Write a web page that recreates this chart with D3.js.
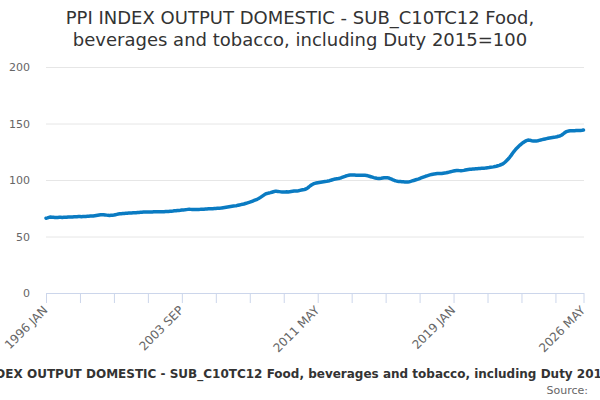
<!DOCTYPE html>
<html>
<head>
<meta charset="utf-8">
<script src="https://cdn.jsdelivr.net/npm/d3@7"></script>
<style>
  body { margin: 0; background: #fff; }
  svg { font-family: "DejaVu Sans", sans-serif; display: block; }
</style>
</head>
<body>
<div id="chart"></div>
<script>
const width = 600;
const height = 400;

const titleLines = ["PPI INDEX OUTPUT DOMESTIC - SUB_C10TC12 Food,", "beverages and tobacco, including Duty 2015=100"];
const caption = "PPI INDEX OUTPUT DOMESTIC - SUB_C10TC12 Food, beverages and tobacco, including Duty 2015=100";
const monthNames = ["JAN","FEB","MAR","APR","MAY","JUN","JUL","AUG","SEP","OCT","NOV","DEC"];
const startYear = 1996;

// monthly values by year
const v1996 = [66.2, 66.5, 66.9, 67.2, 67.1, 67.0, 66.9, 66.8, 66.9, 67.0, 67.0, 66.9];
const v1997 = [67.0, 67.1, 67.0, 67.2, 67.3, 67.2, 67.3, 67.4, 67.4, 67.5, 67.6, 67.6];
const v1998 = [67.5, 67.6, 67.7, 67.8, 67.9, 68.0, 68.1, 68.1, 68.2, 68.4, 68.6, 68.8];
const v1999 = [69.0, 69.2, 69.3, 69.3, 69.1, 68.9, 68.7, 68.6, 68.7, 68.8, 69.0, 69.3];
const v2000 = [69.6, 69.9, 70.1, 70.2, 70.3, 70.4, 70.5, 70.6, 70.7, 70.8, 70.9, 71.0];
const v2001 = [71.0, 71.1, 71.2, 71.3, 71.4, 71.5, 71.6, 71.6, 71.6, 71.7, 71.7, 71.7];
const v2002 = [71.7, 71.8, 71.8, 71.9, 71.9, 71.9, 72.0, 72.0, 72.0, 72.1, 72.1, 72.2];
const v2003 = [72.3, 72.4, 72.5, 72.7, 72.8, 73.0, 73.1, 73.2, 73.4, 73.5, 73.6, 73.8];
const v2004 = [74.0, 74.1, 74.0, 73.9, 73.8, 73.8, 73.9, 74.0, 74.0, 74.1, 74.1, 74.2];
const v2005 = [74.3, 74.4, 74.5, 74.5, 74.6, 74.6, 74.7, 74.8, 74.9, 75.0, 75.1, 75.3];
const v2006 = [75.5, 75.7, 75.9, 76.1, 76.3, 76.5, 76.7, 76.9, 77.1, 77.3, 77.6, 77.9];
const v2007 = [78.2, 78.5, 78.8, 79.2, 79.6, 80.0, 80.4, 80.9, 81.4, 81.9, 82.4, 82.9];
const v2008 = [83.6, 84.4, 85.3, 86.2, 87.1, 87.8, 88.2, 88.5, 88.8, 89.2, 89.6, 90.0];
const v2009 = [90.0, 89.9, 89.7, 89.5, 89.3, 89.3, 89.4, 89.5, 89.4, 89.6, 89.8, 90.0];
const v2010 = [90.2, 90.3, 90.3, 90.5, 90.8, 91.1, 91.4, 91.6, 92.0, 92.8, 93.8, 94.9];
const v2011 = [95.8, 96.5, 97.0, 97.3, 97.6, 97.8, 98.0, 98.2, 98.4, 98.6, 98.8, 99.1];
const v2012 = [99.4, 99.8, 100.2, 100.6, 100.9, 101.1, 101.3, 101.6, 102.0, 102.5, 103.0, 103.5];
const v2013 = [103.9, 104.2, 104.4, 104.5, 104.5, 104.4, 104.3, 104.2, 104.1, 104.1, 104.2, 104.2];
const v2014 = [104.1, 104.0, 103.7, 103.3, 102.9, 102.5, 102.1, 101.8, 101.5, 101.4, 101.4, 101.5];
const v2015 = [101.7, 101.9, 102.1, 102.1, 101.8, 101.3, 100.7, 100.1, 99.6, 99.2, 98.9, 98.7];
const v2016 = [98.6, 98.5, 98.4, 98.3, 98.2, 98.3, 98.5, 98.8, 99.2, 99.6, 100.0, 100.4];
const v2017 = [100.8, 101.3, 101.8, 102.3, 102.8, 103.3, 103.7, 104.1, 104.5, 104.8, 105.1, 105.4];
const v2018 = [105.6, 105.8, 105.8, 105.7, 105.8, 106.0, 106.2, 106.4, 106.7, 107.0, 107.3, 107.6];
const v2019 = [107.9, 108.2, 108.4, 108.4, 108.3, 108.2, 108.3, 108.5, 108.8, 109.1, 109.3, 109.5];
const v2020 = [109.6, 109.7, 109.8, 109.9, 110.0, 110.1, 110.2, 110.3, 110.4, 110.5, 110.7, 110.9];
const v2021 = [111.0, 111.2, 111.4, 111.6, 111.9, 112.2, 112.6, 113.0, 113.5, 114.0, 114.8, 115.9];
const v2022 = [117.2, 118.6, 120.1, 121.8, 123.6, 125.4, 127.0, 128.4, 129.7, 130.9, 132.0, 133.0];
const v2023 = [133.9, 134.6, 135.2, 135.3, 135.1, 134.8, 134.6, 134.5, 134.6, 134.8, 135.1, 135.4];
const v2024 = [135.7, 136.0, 136.3, 136.6, 136.9, 137.2, 137.4, 137.6, 137.8, 138.0, 138.3, 138.7];
const v2025 = [139.0, 139.6, 140.5, 141.6, 142.5, 143.0, 143.3, 143.5, 143.6, 143.6, 143.6, 143.7];
const v2026 = [143.8, 143.9, 143.9, 144.0, 144.2];

const yearly = [v1996, v1997, v1998, v1999, v2000, v2001, v2002, v2003, v2004, v2005,
  v2006, v2007, v2008, v2009, v2010, v2011, v2012, v2013, v2014, v2015,
  v2016, v2017, v2018, v2019, v2020, v2021, v2022, v2023, v2024, v2025, v2026];

const yTicks = [0, 50, 100, 150, 200];
const tickStep = 23;      // months between x ticks
const labelEvery = 4;     // label every 4th tick

// flatten into monthly points
const data = [];
yearly.forEach((vals, yi) => {
  vals.forEach((v, mi) => {
    data.push({ i: data.length, label: (startYear + yi) + " " + monthNames[mi], value: v });
  });
});
const last = data.length - 1;

const margin = { top: 67, right: 16, bottom: 107, left: 46 };

const svg = d3.select("#chart").append("svg")
  .attr("width", width)
  .attr("height", height);

const x = d3.scaleLinear()
  .domain([0, last])
  .range([margin.left, width - margin.right - 0.5]);

const y = d3.scaleLinear()
  .domain([0, 200])
  .range([height - margin.bottom, margin.top]);

// title
svg.append("text")
  .attr("x", width / 2)
  .attr("y", 24)
  .attr("text-anchor", "middle")
  .attr("fill", "#333")
  .style("font-size", "18px")
  .selectAll("tspan")
  .data(titleLines)
  .join("tspan")
    .attr("x", width / 2)
    .attr("dy", (d, i) => i ? 22 : 0)
    .text(d => d);

// grid lines + y labels
const yAxis = svg.append("g")
  .attr("transform", `translate(${margin.left},0)`)
  .call(d3.axisLeft(y).tickValues(yTicks).tickSize(-(width - margin.left - margin.right)).tickPadding(16));
yAxis.select(".domain").remove();
yAxis.selectAll(".tick line").attr("stroke", "#e6e6e6");
yAxis.selectAll(".tick text")
  .attr("fill", "#666")
  .style("font-size", "11px")
  .style("font-family", "DejaVu Sans, sans-serif");

// x axis
const tickIdx = d3.range(0, last, tickStep).concat([last]);
const xAxis = svg.append("g")
  .attr("transform", `translate(0,${height - margin.bottom})`)
  .call(d3.axisBottom(x)
    .tickValues(tickIdx)
    .tickSize(10)
    .tickSizeOuter(0)
    .tickFormat(d => (d === last || (d / tickStep) % labelEvery === 0) ? data[d].label : ""));
xAxis.select(".domain").attr("stroke", "#ccd6eb");
xAxis.selectAll(".tick line").attr("stroke", "#ccd6eb");
xAxis.selectAll(".tick text")
  .attr("fill", "#666")
  .style("font-size", "12px")
  .style("font-family", "DejaVu Sans, sans-serif")
  .attr("text-anchor", "end")
  .attr("x", 0)
  .attr("y", 0)
  .attr("dy", "0.35em")
  .attr("transform", "translate(-1,15) rotate(-45)");

// line
const line = d3.line()
  .x(d => x(d.i))
  .y(d => y(d.value));

svg.append("path")
  .datum(data)
  .attr("fill", "none")
  .attr("stroke", "#0a7bc2")
  .attr("stroke-width", 3.5)
  .attr("stroke-linejoin", "round")
  .attr("stroke-linecap", "round")
  .attr("d", line);

// caption + source
svg.append("text")
  .attr("x", width / 2)
  .attr("y", 378)
  .attr("text-anchor", "middle")
  .attr("fill", "#333")
  .style("font-size", "12px")
  .style("font-weight", "bold")
  .text(caption);

svg.append("text")
  .attr("x", 588)
  .attr("y", 394)
  .attr("text-anchor", "end")
  .attr("fill", "#666")
  .style("font-size", "11px")
  .text("Source:");
</script>
</body>
</html>
